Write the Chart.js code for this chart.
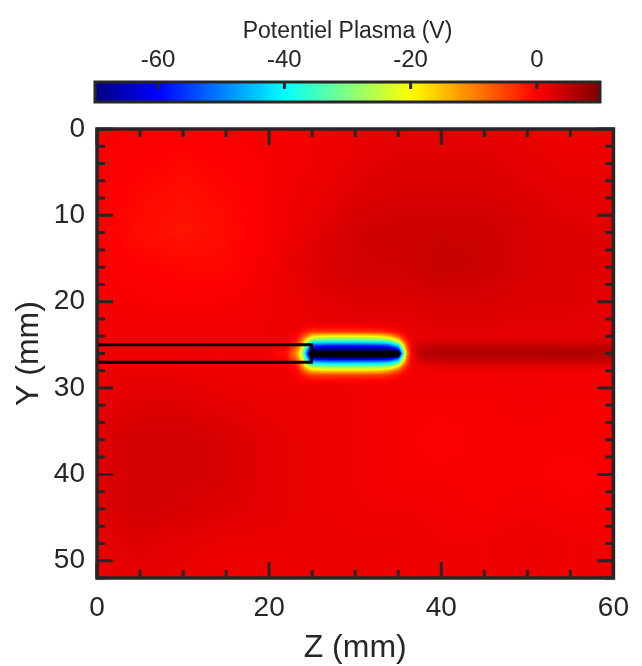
<!DOCTYPE html>
<html>
<head>
<meta charset="utf-8">
<script src="https://cdn.jsdelivr.net/npm/chart.js@4.4.1/dist/chart.umd.min.js"></script>
<style>
  html, body { margin: 0; padding: 0; background: #fff; }
  #wrap { position: relative; width: 642px; height: 666px; }
  #wrap canvas { position: absolute; left: 0; top: 0; }
</style>
</head>
<body>
<div id="wrap">
  <canvas id="plot" width="642" height="666"></canvas>
  <canvas id="cbar" width="642" height="112"></canvas>
</div>
<script>
// Carte du potentiel plasma (V) dans le plan Z-Y, avec la sonde.

// ── Ticks ─────────────────────────────────────────────────
const zTicks  = [0, 20, 40, 60];
const yTicks  = [0, 10, 20, 30, 40, 50];
const cbTicks = [-60, -40, -20, 0];
const cbRange = [-70, 10];

// ── Fond : potentiel (V) sur une grille grossière ─────────
const bgZ = [0, 5, 10, 15, 20, 25, 30, 35, 40, 45, 50, 55, 60];
const bgY = [0, 4, 8, 12, 16, 20, 24, 28, 32, 36, 40, 44, 48, 52];
const bgRows = [
  [0.5, 0.5, 0.3, 0.5, 0.8, 1.0, 1.5, 2.0, 2.0, 2.0, 1.5, 1.0, 1.0],
  [0.5, 0.0, -0.5, 0.0, 0.5, 1.0, 2.0, 2.5, 2.5, 2.5, 2.0, 1.5, 1.5],
  [0.5, -0.5, -1.2, -0.5, 0.5, 1.5, 2.5, 3.0, 3.0, 3.0, 2.5, 2.0, 2.0],
  [0.5, -1.0, -1.5, -0.8, 0.5, 2.0, 3.5, 4.0, 4.0, 4.0, 3.0, 2.5, 2.5],
  [0.5, 0.0, -0.5, -0.5, 0.8, 2.5, 3.5, 3.5, 4.5, 4.0, 3.0, 2.5, 2.5],
  [0.8, 0.5, 0.3, 0.5, 1.0, 2.0, 2.5, 2.5, 3.0, 3.0, 2.5, 2.5, 2.0],
  [1.0, 1.0, 1.0, 1.0, 1.0, 1.5, 1.5, 1.5, 2.0, 2.0, 2.0, 2.0, 2.0],
  [1.5, 1.5, 1.5, 1.0, 1.0, 1.0, 1.0, 1.0, 1.0, 1.0, 1.0, 1.0, 1.0],
  [2.0, 2.5, 2.5, 2.0, 1.5, 1.5, 1.0, 0.5, 0.5, 0.5, 0.8, 0.5, 0.5],
  [2.5, 3.5, 3.5, 3.0, 2.0, 1.5, 1.0, 0.5, 0.3, 0.5, 0.5, 0.5, 0.5],
  [2.5, 3.5, 3.5, 3.0, 2.0, 1.5, 1.0, 0.5, 0.5, 0.5, 0.5, 0.3, 0.5],
  [2.5, 3.5, 3.0, 2.5, 2.0, 1.5, 1.0, 1.0, 0.8, 0.5, 0.8, 0.5, 0.5],
  [2.0, 2.5, 2.0, 1.5, 1.5, 1.5, 1.5, 1.5, 1.0, 1.0, 1.5, 1.0, 1.0],
  [1.5, 2.0, 1.5, 1.0, 1.0, 1.5, 1.5, 1.0, 1.0, 1.0, 1.5, 1.0, 1.0],
];

// ── Bande de la sonde : écart au fond (V), une colonne par Z ──
const probeZ = [0, 20, 22, 23, 23.5, 24, 24.5, 25, 27, 30, 33, 34, 35, 35.5, 36, 36.5, 37, 38, 40, 45, 50, 55, 60];
const probeY = [22.5, 23, 23.5, 24, 24.5, 25, 25.5, 26, 26.5, 27, 27.5, 28, 28.5, 29, 29.5];
const probeCols = [
  [0, 0, 0, 0, 0, 0, 0, 0, 0, 0, 0, 0, 0, 0, 0],
  [0, 0, 0, 0, 0, 0, 0, 0, 0, 0, 0, 0, 0, 0, 0],
  [0, 0, 0, 0, 0, -0.5, -1.5, -2.5, -1.5, -0.5, 0, 0, 0, 0, 0],
  [0, 0, -0.5, -1, -2, -5, -8, -11, -8, -5, -2, -1, -0.5, 0, 0],
  [0, -0.5, -1.5, -3, -6, -10, -15, -19, -15, -10, -6, -3, -1.5, -0.5, 0],
  [0, -1, -3, -8, -14, -21, -28, -34, -28, -21, -14, -8, -3, -1, 0],
  [0, -1.5, -5, -12, -24, -37, -50, -60, -50, -37, -24, -12, -5, -1.5, 0],
  [-0.5, -2, -6, -19, -34, -53, -69, -85, -67, -47, -29, -16, -6, -2, -0.5],
  [-0.5, -2, -6, -22, -36, -56, -71, -86, -70, -49, -31, -18, -6, -2, -0.5],
  [-0.5, -2, -6, -22, -36, -56, -71, -86, -70, -49, -31, -18, -6, -2, -0.5],
  [-0.5, -1.5, -5, -20, -34, -55, -71, -86, -70, -48, -30, -17, -5.5, -1.5, -0.5],
  [0, -1, -3.5, -15, -31, -52, -70, -86, -68, -46, -28, -13, -4, -1, 0],
  [0, -0.5, -2, -8, -21, -40, -60, -85, -58, -38, -19, -7, -2, -0.5, 0],
  [0, 0, -1, -3.5, -10, -21, -33, -44, -32, -20, -9, -3.5, -1, 0, 0],
  [0, 0, -0.5, -1.5, -3.5, -7, -10, -13, -10, -7, -3.5, -1.5, -0.5, 0, 0],
  [0, 0, 0, 0, -0.5, -1, -1.5, -2, -1.5, -1, -0.5, 0, 0, 0, 0],
  [0, 0, 0, 0, 0.3, 1, 1.5, 1.5, 1.5, 1, 0.3, 0, 0, 0, 0],
  [0, 0, 0, 0, 0.5, 2, 3.5, 4, 3.5, 2, 0.5, 0, 0, 0, 0],
  [0, 0, 0, 0.2, 0.8, 2.5, 4, 4.5, 4, 2.5, 0.8, 0.2, 0, 0, 0],
  [0, 0, 0, 0.2, 0.8, 2.5, 4, 4.5, 4, 2.5, 0.8, 0.2, 0, 0, 0],
  [0, 0, 0, 0.2, 0.8, 2.5, 4, 4.5, 4, 2.5, 0.8, 0.2, 0, 0, 0],
  [0, 0, 0, 0.2, 0.8, 2.5, 4.2, 4.8, 4.2, 2.5, 0.8, 0.2, 0, 0, 0],
  [0, 0, 0, 0.2, 0.8, 2.5, 4, 4.5, 4, 2.5, 0.8, 0.2, 0, 0, 0],
];

// ── Contour du porte-sonde et pointe ─────────────────────
const rectZ = [0, 24.9, 24.9, 0, 0];
const rectY = [25, 25, 27, 27, 25];
const tipZ  = [25, 34.8];
const tipY  = [26.05, 26.05];

// ── Style ─────────────────────────────────────────────────
const ink  = '#262626';
const font = "'Liberation Sans', Arial, Helvetica, sans-serif";

function jet(v) {
  let t = (v - cbRange[0]) / (cbRange[1] - cbRange[0]);
  t = Math.min(1, Math.max(0, t));
  const c = (k) => Math.round(255 * Math.min(1, Math.max(0, 1.5 - Math.abs(4 * t - k))));
  return [c(3), c(2), c(1)];
}

function locate(axis, v) {
  const n = axis.length - 1;
  if (v <= axis[0]) return [0, 0];
  if (v >= axis[n]) return [n - 1, 1];
  let i = 0;
  while (axis[i + 1] < v) i++;
  return [i, (v - axis[i]) / (axis[i + 1] - axis[i])];
}

function lerp2(get, zl, yl) {
  const [i, f] = zl, [j, g] = yl;
  const a = get(i, j), b = get(i + 1, j), c = get(i, j + 1), d = get(i + 1, j + 1);
  return (a * (1 - f) + b * f) * (1 - g) + (c * (1 - f) + d * f) * g;
}

const heatmap = {
  id: 'heatmap',
  beforeDatasetsDraw(chart) {
    const { ctx, chartArea: a, scales: { x, y } } = chart;
    const w = Math.round(a.right - a.left), h = Math.round(a.bottom - a.top);
    const off = document.createElement('canvas');
    off.width = w; off.height = h;
    const octx = off.getContext('2d');
    const img = octx.createImageData(w, h);
    const cols = [];
    for (let i = 0; i < w; i++) {
      const z = x.getValueForPixel(a.left + i + 0.5);
      cols.push({ bg: locate(bgZ, z), pr: locate(probeZ, z) });
    }
    const yLo = probeY[0], yHi = probeY[probeY.length - 1];
    for (let j = 0; j < h; j++) {
      const yv = y.getValueForPixel(a.top + j + 0.5);
      const bgL = locate(bgY, yv);
      const inBand = yv > yLo && yv < yHi;
      const prL = locate(probeY, yv);
      for (let i = 0; i < w; i++) {
        let v = lerp2((p, q) => bgRows[q][p], cols[i].bg, bgL);
        if (inBand) v += lerp2((p, q) => probeCols[p][q], cols[i].pr, prL);
        const [r, g, b] = jet(v);
        const k = (j * w + i) * 4;
        img.data[k] = r; img.data[k + 1] = g; img.data[k + 2] = b; img.data[k + 3] = 255;
      }
    }
    octx.putImageData(img, 0, 0);
    ctx.drawImage(off, a.left, a.top);
  },
};

function minorOf(major, step, max) {
  const out = [];
  for (let v = 0; v <= max; v += step) if (!major.includes(v)) out.push(v);
  return out;
}

const frame = {
  id: 'frame',
  afterDatasetsDraw(chart) {
    const { ctx, chartArea: a, scales: { x, y } } = chart;
    ctx.save();
    ctx.strokeStyle = ink;
    ctx.lineWidth = 3;
    ctx.beginPath();
    const zMarks = zTicks.map((v) => [v, 16]).concat(minorOf(zTicks, 5, 60).map((v) => [v, 8]));
    const yMarks = yTicks.map((v) => [v, 16]).concat(minorOf(yTicks, 2, 52).map((v) => [v, 8]));
    for (const [v, len] of zMarks) {
      const px = x.getPixelForValue(v);
      ctx.moveTo(px, a.bottom); ctx.lineTo(px, a.bottom - len);
      ctx.moveTo(px, a.top); ctx.lineTo(px, a.top + len);
    }
    for (const [v, len] of yMarks) {
      const py = y.getPixelForValue(v);
      ctx.moveTo(a.left, py); ctx.lineTo(a.left + len, py);
      ctx.moveTo(a.right, py); ctx.lineTo(a.right - len, py);
    }
    ctx.stroke();
    ctx.lineWidth = 3.5;
    ctx.strokeRect(a.left, a.top, a.right - a.left, a.bottom - a.top);
    ctx.restore();
  },
};

new Chart(document.getElementById('plot'), {
  type: 'scatter',
  data: {
    datasets: [
      {
        data: rectZ.map((z, i) => ({ x: z, y: rectY[i] })),
        showLine: true, borderColor: '#000', borderWidth: 3,
        borderJoinStyle: 'miter', pointRadius: 0, fill: false,
      },
      {
        data: tipZ.map((z, i) => ({ x: z, y: tipY[i] })),
        showLine: true, borderColor: '#000', borderWidth: 6.5,
        borderCapStyle: 'round', pointRadius: 0, fill: false,
      },
    ],
  },
  options: {
    responsive: false,
    animation: false,
    devicePixelRatio: 1,
    events: [],
    layout: { padding: { left: 0, right: 26, top: 129, bottom: 0 } },
    plugins: { legend: { display: false }, tooltip: { enabled: false } },
    scales: {
      x: {
        type: 'linear', min: 0, max: 60,
        afterBuildTicks: (s) => { s.ticks = zTicks.map((v) => ({ value: v })); },
        afterFit: (s) => { s.height = 88; },
        grid: { display: false, drawTicks: false },
        border: { display: false },
        ticks: { font: { family: font, size: 28 }, color: ink, padding: 13, maxRotation: 0, autoSkip: false },
        title: { display: true, text: 'Z (mm)', color: ink,
                 font: { family: font, size: 32, lineHeight: 1 }, padding: { top: 0, bottom: 2 } },
      },
      y: {
        type: 'linear', min: 0, max: 52, reverse: true,
        afterBuildTicks: (s) => { s.ticks = yTicks.map((v) => ({ value: v })); },
        afterFit: (s) => { s.width = 97; },
        grid: { display: false, drawTicks: false },
        border: { display: false },
        ticks: { font: { family: font, size: 28 }, color: ink, padding: 12, autoSkip: false },
        title: { display: true, text: 'Y (mm)', color: ink,
                 font: { family: font, size: 32, lineHeight: 1 }, padding: { top: 13, bottom: 0 } },
      },
    },
  },
  plugins: [heatmap, frame],
});

// ── Barre de couleur ──────────────────────────────────────
const colorbar = {
  id: 'colorbar',
  beforeDatasetsDraw(chart) {
    const { ctx, chartArea: a, scales: { x } } = chart;
    ctx.save();
    for (let px = Math.floor(a.left); px < a.right; px++) {
      const [r, g, b] = jet(x.getValueForPixel(px + 0.5));
      ctx.fillStyle = `rgb(${r},${g},${b})`;
      ctx.fillRect(px, a.top, 1, a.bottom - a.top);
    }
    ctx.strokeStyle = ink;
    ctx.lineWidth = 3;
    ctx.beginPath();
    for (const v of cbTicks) {
      const px = x.getPixelForValue(v);
      ctx.moveTo(px, a.top); ctx.lineTo(px, a.top + 7);
    }
    ctx.stroke();
    ctx.strokeRect(a.left, a.top, a.right - a.left, a.bottom - a.top);
    ctx.restore();
  },
};

new Chart(document.getElementById('cbar'), {
  type: 'scatter',
  data: { datasets: [] },
  options: {
    responsive: false,
    animation: false,
    devicePixelRatio: 1,
    events: [],
    layout: { padding: { left: 95, right: 42, top: 0, bottom: 10 } },
    plugins: { legend: { display: false }, tooltip: { enabled: false } },
    scales: {
      x: {
        type: 'linear', position: 'top', min: cbRange[0], max: cbRange[1],
        afterBuildTicks: (s) => { s.ticks = cbTicks.map((v) => ({ value: v })); },
        afterFit: (s) => { s.height = 82; },
        grid: { display: false, drawTicks: false },
        border: { display: false },
        ticks: { font: { family: font, size: 24 }, color: ink, padding: 7, maxRotation: 0, autoSkip: false },
        title: { display: true, text: 'Potentiel Plasma (V)', color: ink,
                 font: { family: font, size: 23 }, padding: { top: 18, bottom: 0 } },
      },
      y: { display: false, min: 0, max: 1 },
    },
  },
  plugins: [colorbar],
});
</script>
</body>
</html>
